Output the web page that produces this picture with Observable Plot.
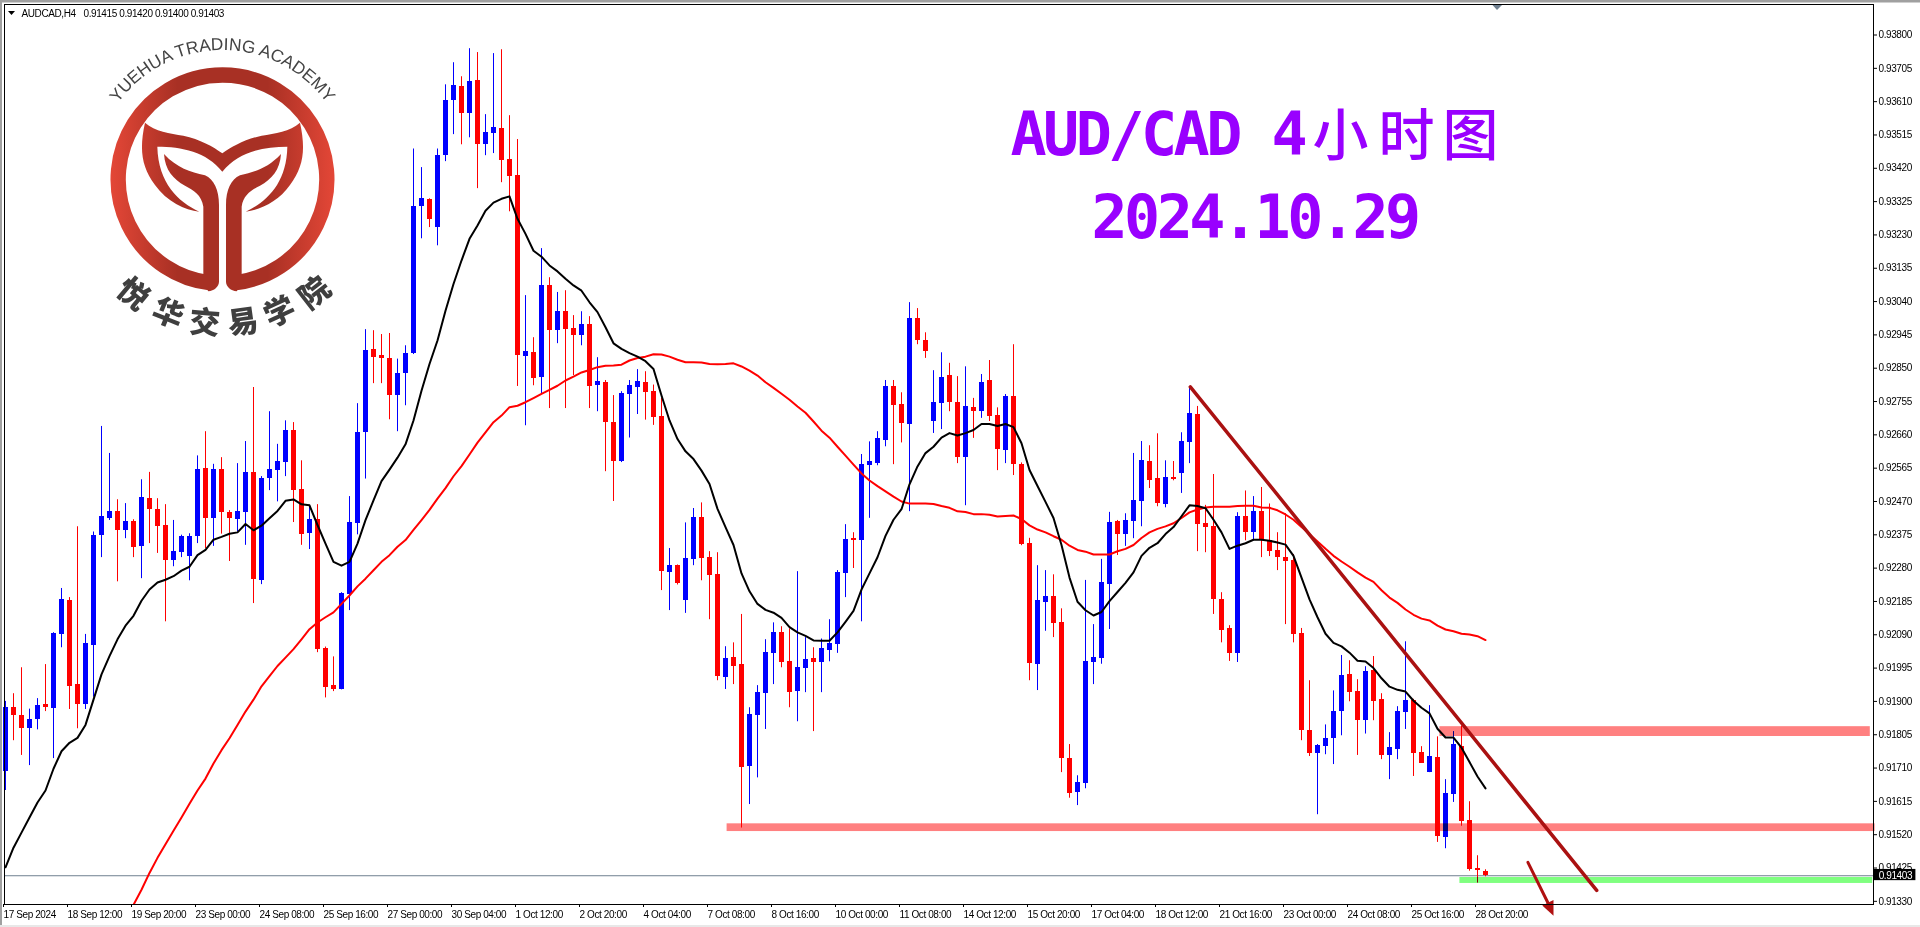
<!DOCTYPE html>
<html><head><meta charset="utf-8">
<script src="https://cdn.jsdelivr.net/npm/d3@7"></script>
<script src="https://cdn.jsdelivr.net/npm/@observablehq/plot@0.6"></script>
<style>html,body{margin:0;padding:0;background:#fff;overflow:hidden}
g[font-size="10"]{letter-spacing:-.4px}
g[font-size="60"]{letter-spacing:-3.5px}
</style>
</head><body><div id="chart"></div>
<script>
// prices in 1e-5 units
const open=[91701,91883,91860,91822,91848,91890,91881,92091,92187,91948,
91890,92059,92372,92421,92441,92387,92413,92342,92478,92447,
92401,92301,92324,92313,92370,92564,92421,92561,92439,92418,
92439,92553,92244,92535,92558,92581,92672,92504,92378,92418,
92050,91945,91933,92205,92407,92666,92903,92886,92877,92772,
92835,92892,93311,93331,93251,93456,93613,93653,93576,93670,
93487,93519,93533,93445,93399,92883,92895,92823,93086,92957,
93011,92963,92943,92974,92800,92809,92695,92584,92776,92794,
92809,92783,92712,92267,92287,92187,92305,92424,92310,92262,
91967,92024,92005,91714,91860,91923,92037,92096,92013,91928,
91994,92022,92010,92045,92062,92265,92365,92358,92572,92577,
92643,92797,92746,92689,92992,92929,92698,92749,92829,92752,
92595,92737,92726,92815,92715,92615,92769,92575,92350,92005,
92182,92198,92124,91736,91639,91665,92011,92022,92233,92413,
92376,92413,92470,92583,92536,92461,92538,92550,92638,92718,
92407,92398,92190,92108,92036,92427,92381,92441,92358,92329,
92310,92301,92093,91817,91751,91771,91794,91870,91977,91928,
91845,91988,91906,91746,91762,91868,91902,91754,91697,91739,
91512,91634,91771,91560,91425,91415];
const high=[91900,91922,91996,91878,91908,92005,92096,92222,92196,92398,
92091,92383,92684,92607,92475,92464,92418,92532,92553,92478,
92461,92416,92374,92378,92600,92669,92576,92595,92444,92578,
92641,92795,92541,92726,92633,92700,92695,92586,92459,92461,
92055,92027,92210,92484,92749,92960,92957,92946,92949,92876,
92914,93475,93422,93333,93475,93658,93721,93681,93761,93750,
93573,93747,93758,93570,93502,93057,92937,93191,93108,93066,
93071,93000,93011,92997,92880,92815,92772,92783,92815,92846,
92840,92802,92764,92336,92289,92409,92450,92466,92327,92324,
92056,92067,92148,91882,91945,92076,92124,92113,92107,92270,
92082,92053,92078,92133,92273,92404,92381,92604,92640,92669,
92815,92815,92780,93037,93020,92951,92843,92894,92864,92826,
92854,92764,92832,92872,92737,92775,92917,92580,92365,92287,
92273,92261,92164,91777,91688,92245,92119,92305,92439,92416,
92435,92607,92641,92629,92663,92586,92584,92666,92797,92741,
92459,92547,92210,92116,92438,92500,92484,92510,92463,92381,
92435,92319,92108,91959,91777,91833,91930,92031,92016,91962,
91999,92028,91922,91811,91885,92070,91906,91771,91888,91799,
91677,91814,91830,91614,91460,91420];
const low=[91646,91788,91746,91717,91819,91871,91737,92053,91877,91822,
91877,91912,92310,92416,92241,92364,92310,92250,92350,92322,
92127,92284,92310,92244,92350,92336,92342,92377,92299,92384,
92345,92179,92233,92501,92469,92541,92410,92345,92333,92039,
91910,91928,91933,92159,92375,92534,92806,92806,92703,92669,
92743,92889,93219,93251,93199,93439,93516,93487,93507,93362,
93456,93462,93379,93296,92798,92686,92800,92778,92735,92920,
92735,92829,92914,92735,92726,92555,92470,92581,92651,92718,
92702,92687,92216,92159,92232,92151,92287,92244,92133,91959,
91934,91948,91539,91606,91682,91820,91948,91996,91882,91842,
91925,91814,91925,92013,92037,92196,92279,92127,92422,92572,
92626,92575,92637,92441,92917,92878,92664,92675,92726,92578,
92458,92650,92707,92698,92558,92578,92544,92344,91959,91931,
92100,92082,91697,91624,91603,91651,91948,92006,92105,92316,
92342,92364,92398,92507,92455,92452,92529,92493,92578,92327,
92324,92148,92067,92014,92011,92358,92358,92310,92313,92273,
92119,92067,91788,91743,91577,91748,91720,91802,91899,91746,
91807,91845,91734,91677,91734,91820,91686,91723,91697,91498,
91480,91612,91544,91416,91382,91400];
const close=[91883,91860,91822,91848,91888,91883,92094,92190,91942,91890,
92065,92372,92427,92441,92387,92413,92339,92481,92447,92398,
92301,92327,92370,92370,92561,92421,92561,92439,92421,92441,
92553,92247,92535,92561,92584,92672,92501,92377,92418,92048,
91939,91933,92208,92410,92667,92900,92880,92877,92772,92835,
92892,93311,93333,93274,93456,93613,93656,93576,93667,93487,
93522,93536,93442,93396,92886,92897,92820,93086,92957,93011,
92960,92943,92974,92798,92812,92695,92584,92778,92800,92811,
92780,92709,92270,92287,92235,92308,92424,92308,92259,91970,
92022,91999,91712,91863,91925,92039,92096,92010,91925,91996,
92019,92010,92051,92065,92267,92362,92359,92575,92583,92650,
92797,92743,92692,92992,92929,92897,92752,92823,92752,92595,
92740,92726,92809,92712,92618,92769,92575,92347,92008,92187,
92198,92122,91736,91637,91668,92014,92025,92239,92410,92376,
92416,92473,92586,92529,92464,92538,92532,92641,92720,92404,
92395,92190,92101,92036,92427,92381,92441,92358,92327,92310,
92298,92090,91817,91751,91774,91794,91870,91974,91925,91845,
91985,91899,91746,91768,91870,91902,91751,91723,91743,91515,
91637,91777,91557,91422,91419,91403];
const fastMA=[91427,91483,91526,91569,91612,91646,91708,91758,91782,91796,
91833,91905,91977,92029,92077,92116,92144,92187,92219,92239,
92247,92257,92273,92284,92317,92332,92361,92369,92378,92382,
92406,92388,92401,92422,92443,92472,92476,92462,92459,92403,
92350,92298,92287,92298,92350,92417,92473,92528,92561,92595,
92633,92701,92786,92862,92929,93014,93090,93157,93219,93257,
93299,93322,93333,93340,93276,93233,93185,93168,93143,93126,
93105,93086,93071,93038,93010,92967,92921,92905,92893,92883,
92870,92848,92772,92701,92648,92613,92591,92558,92520,92449,
92397,92346,92265,92214,92178,92161,92153,92138,92112,92097,
92087,92074,92073,92073,92097,92127,92158,92219,92265,92311,
92372,92418,92448,92519,92570,92608,92626,92652,92665,92658,
92665,92674,92691,92691,92685,92691,92682,92636,92560,92514,
92469,92423,92346,92253,92184,92160,92145,92155,92186,92212,
92238,92268,92315,92338,92351,92377,92397,92428,92459,92457,
92451,92418,92382,92335,92344,92351,92361,92361,92358,92353,
92347,92315,92253,92191,92140,92093,92067,92057,92039,92016,
92014,91995,91966,91942,91933,91928,91902,91882,91866,91822,
91797,91797,91768,91727,91686,91652];
const slowMAStart=16;
const slowMA=[91320,91363,91411,91454,
91493,91531,91569,91608,91646,91680,91723,91761,91795,91833,
91871,91905,91943,91972,92001,92025,92049,92077,92106,92125,
92140,92154,92178,92202,92228,92250,92274,92298,92317,92341,
92360,92389,92417,92446,92478,92508,92542,92571,92604,92638,
92667,92696,92715,92739,92743,92753,92765,92777,92788,92800,
92815,92826,92838,92845,92853,92857,92858,92860,92872,92879,
92883,92890,92889,92883,92874,92867,92867,92866,92862,92861,
92862,92864,92855,92843,92829,92810,92794,92777,92760,92741,
92723,92698,92672,92652,92626,92601,92575,92550,92530,92514,
92499,92484,92470,92464,92464,92464,92463,92457,92452,92442,
92440,92434,92434,92432,92427,92429,92430,92420,92402,92390,
92382,92371,92361,92344,92332,92327,92319,92319,92319,92328,
92335,92346,92366,92382,92392,92399,92408,92423,92439,92447,
92453,92455,92455,92455,92457,92458,92458,92453,92452,92445,
92433,92418,92397,92377,92356,92335,92315,92299,92284,92268,
92253,92241,92217,92196,92181,92162,92147,92136,92131,92116,
92105,92100,92093,92091,92086,92075];
const priceTicks=[0.938,0.93705,0.9361,0.93515,0.9342,0.93325,0.9323,0.93135,0.9304,0.92945,0.9285,0.92755,0.9266,0.92565,0.9247,0.92375,0.9228,0.92185,0.9209,0.91995,0.919,0.91805,0.9171,0.91615,0.9152,0.91425,0.9133];
const timeLabels=["17 Sep 2024","18 Sep 12:00","19 Sep 20:00","23 Sep 00:00","24 Sep 08:00","25 Sep 16:00","27 Sep 00:00","30 Sep 04:00","1 Oct 12:00","2 Oct 20:00","4 Oct 04:00","7 Oct 08:00","8 Oct 16:00","10 Oct 00:00","11 Oct 08:00","14 Oct 12:00","15 Oct 20:00","17 Oct 04:00","18 Oct 12:00","21 Oct 16:00","23 Oct 00:00","24 Oct 08:00","25 Oct 16:00","28 Oct 20:00"];
const timeTickEvery=8;
const lastPrice=0.91403;
// annotations: [bar from, bar to, price top, price bottom]
const zoneResistance=[179.3,233.1,0.91828,0.91800];
const zoneSupport=[90.2,233.7,0.91551,0.91529];
const zoneTarget=[181.8,233.4,0.91398,0.91381];
const trendBars=[148.1,198.9], trendPrices=[0.92797,0.91361];
const arrowBars=[190.3,192.8], arrowPrices=[0.91441,0.91326];
const arrowHeadBars=[193.5,192.1,193.5], arrowHeadPrices=[0.91289,0.91318,0.91334];

const uiFont='"Liberation Sans",sans-serif';
const titleColor="#9900ff";
const bars=d3.range(open.length).map(i=>({i,o:open[i]/1e5,h:high[i]/1e5,l:low[i]/1e5,c:close[i]/1e5,col:close[i]>=open[i]?"#0000ff":"#ff0000"}));
const fast=fastMA.map((v,i)=>({i,v:v/1e5}));
const slow=slowMA.map((v,i)=>({i:i+slowMAStart,v:v/1e5}));
const zone=(z,fill)=>Plot.rect([z],{x1:z=>z[0],x2:z=>z[1],y1:z=>z[2],y2:z=>z[3],fill,mixBlendMode:"multiply"});
const pageText=(t,x,y,o)=>Plot.text([t],{frameAnchor:"top-left",dx:x-4,dy:y-4,textAnchor:"start",lineAnchor:"middle",...o});
const titleLatin={fontFamily:"DejaVu Sans Mono",fontWeight:"bold",fontSize:60,fill:titleColor};
const titleCJK={fontFamily:"Noto Sans CJK SC",fontWeight:500,fontSize:56,fill:titleColor,textAnchor:"middle"};

function chrome(){
  const g=document.createElementNS("http://www.w3.org/2000/svg","g");
  g.innerHTML=`
  <rect x="0" y="0" width="1920" height="2.5" fill="#a0a0a0"/>
  <rect x="0" y="0" width="2" height="927" fill="#a0a0a0"/>
  <rect x="0" y="925" width="1920" height="2" fill="#e8e8e8"/>
  <path d="M8,11H15L11.5,15Z" fill="#000"/>
  <path d="M1492.5,5H1502L1497,10Z" fill="#708090"/>
  <defs><linearGradient id="lg" gradientUnits="userSpaceOnUse" x1="60" x2="735" y1="0" y2="0">
    <stop offset="0" stop-color="#e44737"/><stop offset=".3" stop-color="#a83024"/>
    <stop offset=".7" stop-color="#a83024"/><stop offset="1" stop-color="#e44737"/></linearGradient></defs>
  <g transform="translate(90,20) scale(.33333)">
    <path d="M362,789A313,313 0 1 1 433,789" fill="none" stroke="url(#lg)" stroke-width="46"/>
    <path fill="url(#lg)" d="M222,402C262,445 300,455 345,466C372,478 387,510 387,555V785C387,800 372,812 355,814L340,790V560C335,525 310,510 285,497C250,478 225,450 222,402Z"/>
    <path fill="url(#lg)" d="M573,402C533,445 495,455 450,466C423,478 408,510 408,555V785C408,800 423,812 440,814L455,790V560C460,525 485,510 510,497C545,478 570,450 573,402Z"/>
    <path fill="url(#lg)" d="M165,308C195,335 240,340 280,347C330,358 370,380 397,400C425,380 465,358 515,347C555,340 600,335 630,308C648,390 640,440 600,495C565,545 510,570 467,575C530,545 590,490 592,380C520,380 445,395 397,455C350,395 275,380 202,380C205,490 265,545 328,575C285,570 230,545 195,495C155,440 147,390 165,308Z"/>
    <path id="logoArc" d="M61,284A388,388 0 0 1 733,284" fill="none"/>
    <text font-family="Liberation Sans" font-size="52" fill="#444" text-anchor="middle"><textPath href="#logoArc" startOffset="50%">YUEHUA TRADING ACADEMY</textPath></text>
    <g font-family="Noto Sans CJK SC" font-weight="900" font-size="92" fill="#3f3f3f" text-anchor="middle" dominant-baseline="central">
      <text transform="translate(135,815) rotate(40)">悦</text>
      <text transform="translate(238,872) rotate(22)">华</text>
      <text transform="translate(345,900) rotate(5)">交</text>
      <text transform="translate(458,898) rotate(-8)">易</text>
      <text transform="translate(565,868) rotate(-25)">学</text>
      <text transform="translate(668,812) rotate(-38)">院</text>
    </g>
  </g>`;
  return g;
}

const plot=Plot.plot({
  width:1920,height:927,
  marginLeft:4,marginTop:4,marginRight:47,marginBottom:23,
  style:{background:"#fff",fontFamily:uiFont,color:"#000",overflow:"visible"},
  color:{type:"identity"},
  x:{domain:[-1/8,(1873-5)/8],axis:null},
  y:{domain:[0.91321,0.93887],axis:null},
  marks:[
    chrome,
    Plot.ruleY([lastPrice],{stroke:"#708090",strokeWidth:1}),
    Plot.ruleX(bars,{x:"i",y1:"l",y2:"h",stroke:"col",strokeWidth:1}),
    Plot.ruleX(bars,{x:"i",y1:"o",y2:"c",stroke:"col",strokeWidth:5,shapeRendering:"crispEdges"}),
    Plot.line(slow,{x:"i",y:"v",stroke:"#ff0000",strokeWidth:2,clip:true}),
    Plot.line(fast,{x:"i",y:"v",stroke:"#000",strokeWidth:2}),
    zone(zoneResistance,"#ff8080"),
    zone(zoneSupport,"#ff8080"),
    zone(zoneTarget,"#80ff80"),
    Plot.line(trendBars.map((b,k)=>({b,p:trendPrices[k]})),{x:"b",y:"p",stroke:"#aa1111",strokeWidth:3.5}),
    Plot.line(arrowBars.map((b,k)=>({b,p:arrowPrices[k]})),{x:"b",y:"p",stroke:"#b01010",strokeWidth:3}),
    Plot.line(arrowHeadBars.map((b,k)=>({b,p:arrowHeadPrices[k]})),{x:"b",y:"p",fill:"#b01010",stroke:"none"}),
    Plot.frame({stroke:"#000"}),
    Plot.axisY({anchor:"right",ticks:priceTicks,tickFormat:d3.format(".5f"),tickSize:3,tickPadding:2,label:null,fontSize:10,stroke:"#000",fill:"#000"}),
    Plot.axisX({anchor:"bottom",ticks:timeLabels.map((_,k)=>k*timeTickEvery),tickFormat:(i)=>timeLabels[i/timeTickEvery],tickSize:3,tickPadding:3,label:null,fontSize:10,textAnchor:"start",dx:-2,stroke:"#000",fill:"#000"}),
    Plot.rect([lastPrice],{x1:()=>233.6,x2:()=>238.8,y1:()=>0.91421,y2:()=>0.91389,fill:"#000"}),
    Plot.text([lastPrice],{x:()=>234.15,y:d=>d,text:d=>d3.format(".5f")(d),fill:"#fff",fontSize:10,textAnchor:"start"}),
    pageText("AUDCAD,H4",21,13,{fontSize:10,fill:"#000"}),
    pageText("0.91415 0.91420 0.91400 0.91403",83,13,{fontSize:10,fill:"#000"}),
    pageText("AUD/CAD 4",1010,134.8,titleLatin),
    pageText("小",1340,136.5,titleCJK),
    pageText("时",1406,136.5,titleCJK),
    pageText("图",1470,136.5,titleCJK),
    pageText("2024.10.29",1091,217.8,titleLatin)
  ]
});
document.getElementById("chart").appendChild(plot);
</script></body></html>
